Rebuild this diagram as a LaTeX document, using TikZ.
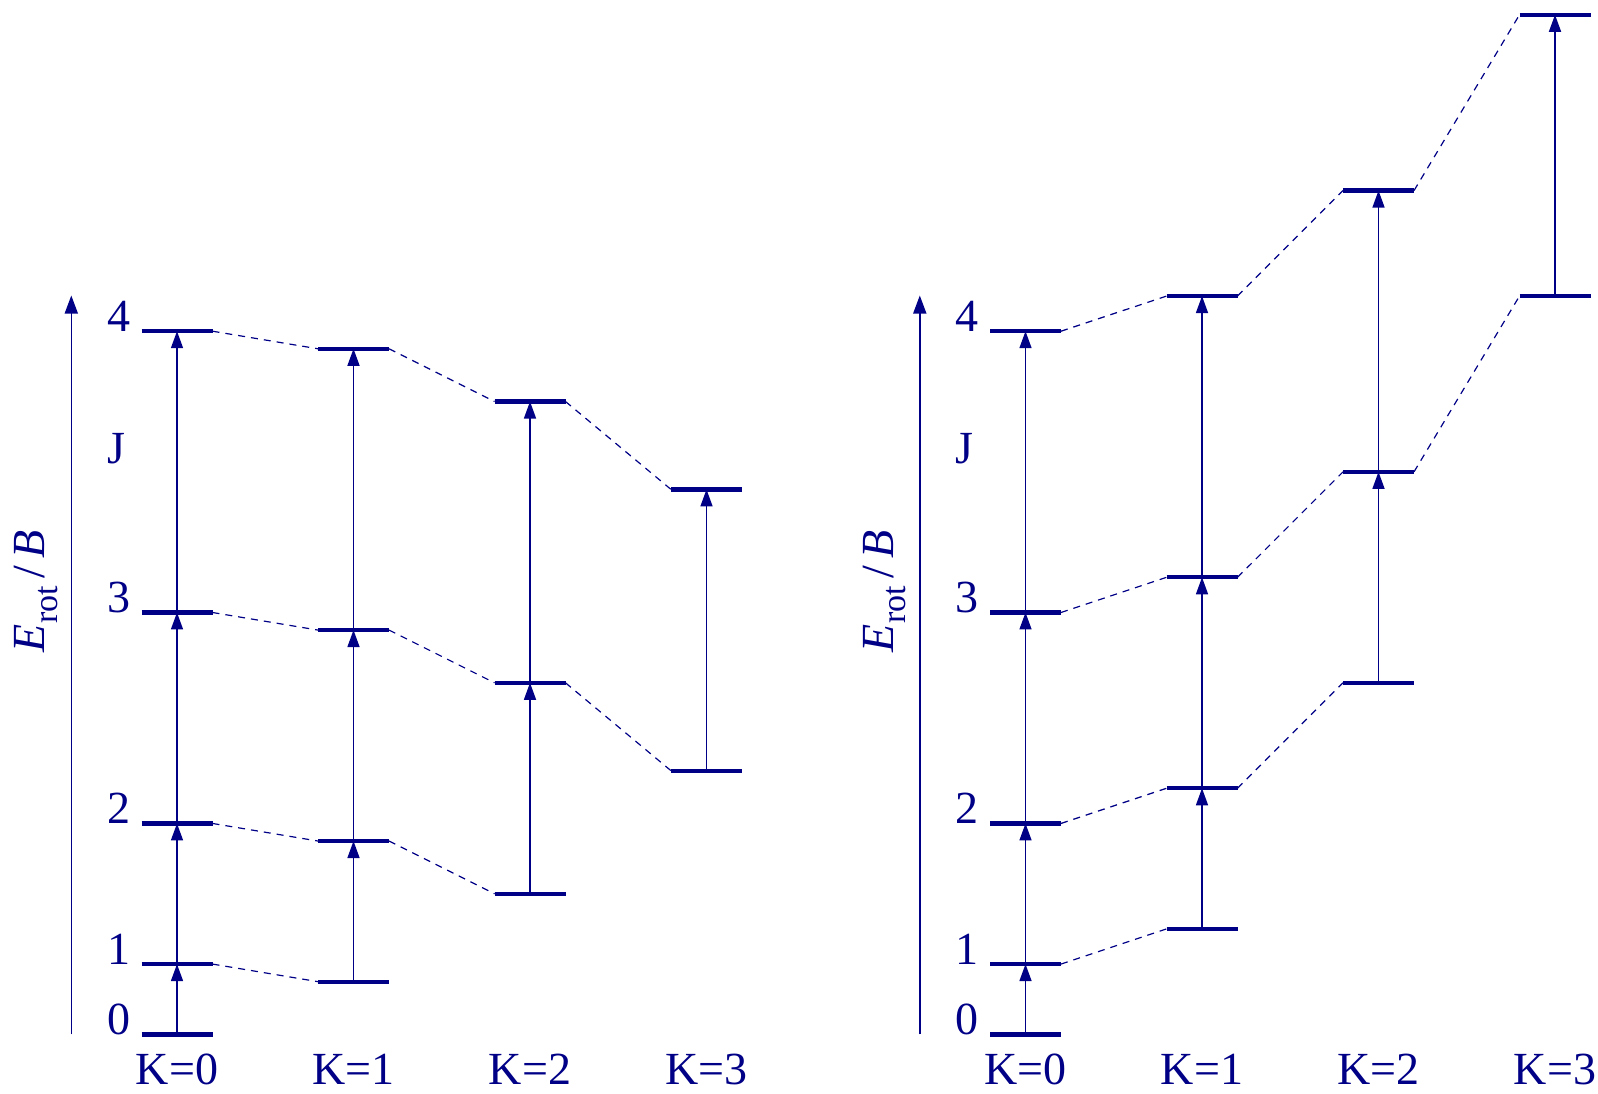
\documentclass[tikz,border=0pt]{standalone}
\usepackage{fontspec}
\setmainfont{Liberation Serif}
\usetikzlibrary{arrows.meta}
\definecolor{ink}{RGB}{0,0,135}
\tikzset{
  levelline/.style={draw=ink, line width=4.2pt},
  trans/.style={draw=ink, line width=1.5pt, -{Triangle[length=17pt,width=12pt]}},
  axisline/.style={draw=ink, line width=1.6pt, -{Triangle[length=18pt,width=13pt]}},
  link/.style={draw=ink, line width=1.2pt, dash pattern=on 7pt off 6pt},
  lbl/.style={text=ink, inner sep=0pt, font=\fontsize{46}{50}\selectfont},
}
\begin{document}
\begin{tikzpicture}[x=1pt, y=-1pt]
\useasboundingbox (0,0) rectangle (1598,1093);
% two panels: oblate (C-B = -0.5) and prolate (A-B = +1)
\foreach \p/\ox/\c in {a/0/-0.5, b/848.5/1}{
  % level positions E = J(J+1) + c K^2
  \foreach \K in {0,...,3}{
    \foreach \J in {\K,...,4}{
      \coordinate (\p-\K-\J) at ({177+176.5*\K+\ox}, {1034.4-35.16*(\J*(\J+1)+\c*\K*\K)});
    }
  }
  % energy axis
  \coordinate (\p-ax0) at ({71.3+\ox}, 1034.4);
  \coordinate (\p-ax1) at ({71.3+\ox}, 295.5);
  \draw[axisline] (\p-ax0) -- (\p-ax1);
  \node[lbl, rotate=90] (\p-ylab) at ({36+\ox}, 591)
    {\textit{E}\raisebox{-0.28em}{\fontsize{34}{36}\selectfont rot}\,/\,\textit{B}};
  \node[lbl] (\p-Jlab) at ({116+\ox}, 449) {J};
  % J numbers beside the K=0 column
  \foreach \J in {0,...,4}{
    \node[lbl, anchor=base] (\p-n\J) at ({118.5+\ox}, {1034.4-35.16*\J*(\J+1)}) {\J};
  }
  % K labels
  \foreach \K in {0,...,3}{
    \node[lbl, anchor=base] (\p-k\K) at ({177+176.5*\K+\ox}, 1084) {K=\K};
  }
  % dashed links joining equal J across K
  \foreach \K in {0,...,2}{
    \pgfmathtruncatemacro\Kn{\K+1}
    \foreach \J in {\Kn,...,4}{
      \draw[link] ([xshift=35.5pt]\p-\K-\J) -- ([xshift=-35.5pt]\p-\Kn-\J);
    }
  }
  % transitions J-1 -> J within each K stack
  \foreach \K in {0,...,3}{
    \pgfmathtruncatemacro\Jf{\K+1}
    \foreach \J in {\Jf,...,4}{
      \pgfmathtruncatemacro\Jl{\J-1}
      \draw[trans] (\p-\K-\Jl) -- (\p-\K-\J);
    }
  }
  % level bars
  \foreach \K in {0,...,3}{
    \foreach \J in {\K,...,4}{
      \draw[levelline] ([xshift=-35.5pt]\p-\K-\J) -- ([xshift=35.5pt]\p-\K-\J);
    }
  }
}
\end{tikzpicture}
\end{document}
